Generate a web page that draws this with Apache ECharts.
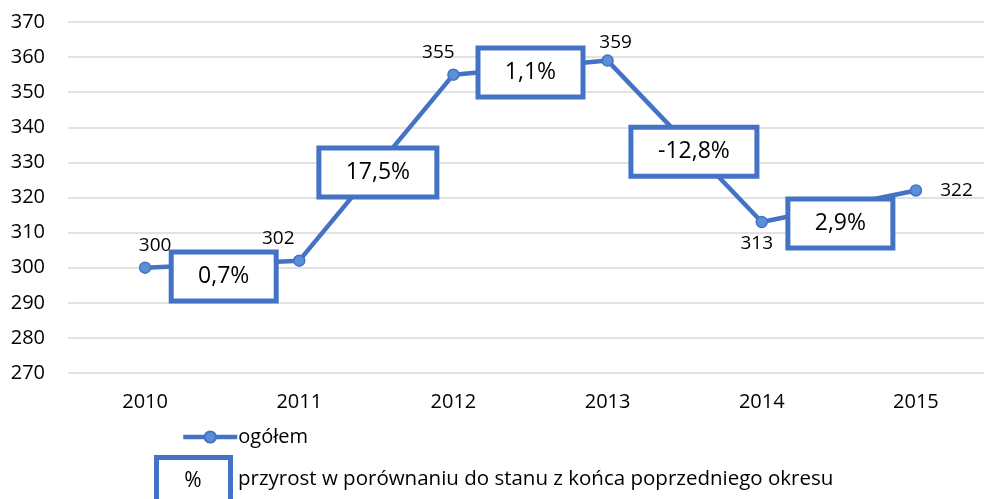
<!DOCTYPE html>
<html>
<head>
<meta charset="utf-8">
<script src="https://cdn.jsdelivr.net/npm/echarts@6/dist/echarts.min.js"></script>
<style>
  html, body { margin: 0; padding: 0; background: #fff; }
  #chart { width: 984px; height: 499px; }
</style>
</head>
<body>
<div id="chart"></div>
<script>
// dane
const years = ['2010', '2011', '2012', '2013', '2014', '2015'];
const ogolem = [300, 302, 355, 359, 313, 322];
const yTicks = { min: 270, max: 370, step: 10 };
const growth = ['0,7%', '17,5%', '1,1%', '-12,8%', '2,9%'];

// where each growth box sits (x = category index, y = axis value)
const boxAnchor = [[0.51, 297.5], [1.51, 327.1], [2.5, 355.6], [3.56, 333], [4.51, 312.6]];

const BLUE = '#4472C4';
const FONT = '"Open Sans", sans-serif';

// label placement per point
const labelPos = ['top', 'top', 'top', 'top', 'bottom', 'right'];
const labelOffset = [[10, 0], [-21, 0], [-15, 0], [8, 4], [-5, 0], [12, 0]];

const measure = document.createElement('canvas').getContext('2d');
measure.font = '23px ' + FONT;
function boxWidth(txt) {
    return Math.round(measure.measureText(txt).width + 54);
}

const chart = echarts.init(document.getElementById('chart'));

chart.setOption({
    animation: false,
    grid: { left: 68, right: -9, top: 22, bottom: 126, containLabel: false, outerBoundsMode: 'none' },
    legend: {
        data: ['ogółem'],
        left: 176,
        top: 422,
        itemWidth: 54,
        itemHeight: 14,
        lineStyle: { width: 4.5 },
        textStyle: { fontFamily: FONT, fontSize: 20, color: '#000', padding: [0, 0, 0, -4] }
    },
    xAxis: [
        {
            type: 'category',
            data: years,
            boundaryGap: true,
            axisLine: { show: false },
            axisTick: { show: false },
            axisLabel: { margin: 19, fontFamily: FONT, fontSize: 20, color: '#000' }
        },
        {
            type: 'value',
            min: -0.5,
            max: 5.5,
            show: false
        }
    ],
    yAxis: {
        type: 'value',
        min: yTicks.min,
        max: yTicks.max,
        interval: yTicks.step,
        axisLine: { show: false },
        axisTick: { show: false },
        axisLabel: { margin: 23, fontFamily: FONT, fontSize: 20, color: '#000' },
        splitLine: { lineStyle: { color: '#d9d9d9', width: 1.5 } }
    },
    series: [
        {
            name: 'ogółem',
            type: 'line',
            data: ogolem.map((v, i) => ({
                value: v,
                label: { position: labelPos[i], offset: labelOffset[i] }
            })),
            lineStyle: { color: BLUE, width: 4.5 },
            symbol: 'circle',
            symbolSize: 11,
            itemStyle: { color: '#5B8FD8', borderColor: BLUE, borderWidth: 1.5 },
            label: {
                show: true,
                distance: 6,
                fontFamily: FONT,
                fontSize: 19,
                color: '#000'
            },
            z: 2
        },
        {
            name: 'przyrost',
            type: 'scatter',
            xAxisIndex: 1,
            symbolSize: 1,
            itemStyle: { color: 'rgba(0,0,0,0)', opacity: 1 },
            data: boxAnchor.map((p, i) => ({
                value: p,
                label: { formatter: growth[i], width: boxWidth(growth[i]) - 5 }
            })),
            label: {
                show: true,
                position: 'inside',
                align: 'center',
                verticalAlign: 'middle',
                height: 44,
                lineHeight: 44,
                padding: 0,
                backgroundColor: '#fff',
                borderColor: BLUE,
                borderWidth: 5,
                fontFamily: FONT,
                fontSize: 23,
                color: '#000'
            },
            z: 5
        }
    ],
    graphic: [
        {
            type: 'rect',
            shape: { x: 156.5, y: 457.5, width: 74, height: 50 },
            style: { fill: '#fff', stroke: BLUE, lineWidth: 5 }
        },
        {
            type: 'text',
            x: 193,
            y: 481,
            style: { text: '%', font: '21px ' + FONT, fill: '#000', align: 'center', verticalAlign: 'middle' }
        },
        {
            type: 'text',
            x: 238,
            y: 479,
            style: {
                text: 'przyrost w porównaniu do stanu z końca poprzedniego okresu',
                font: '20.5px ' + FONT,
                fill: '#000',
                verticalAlign: 'middle'
            }
        }
    ]
});
</script>
</body>
</html>
